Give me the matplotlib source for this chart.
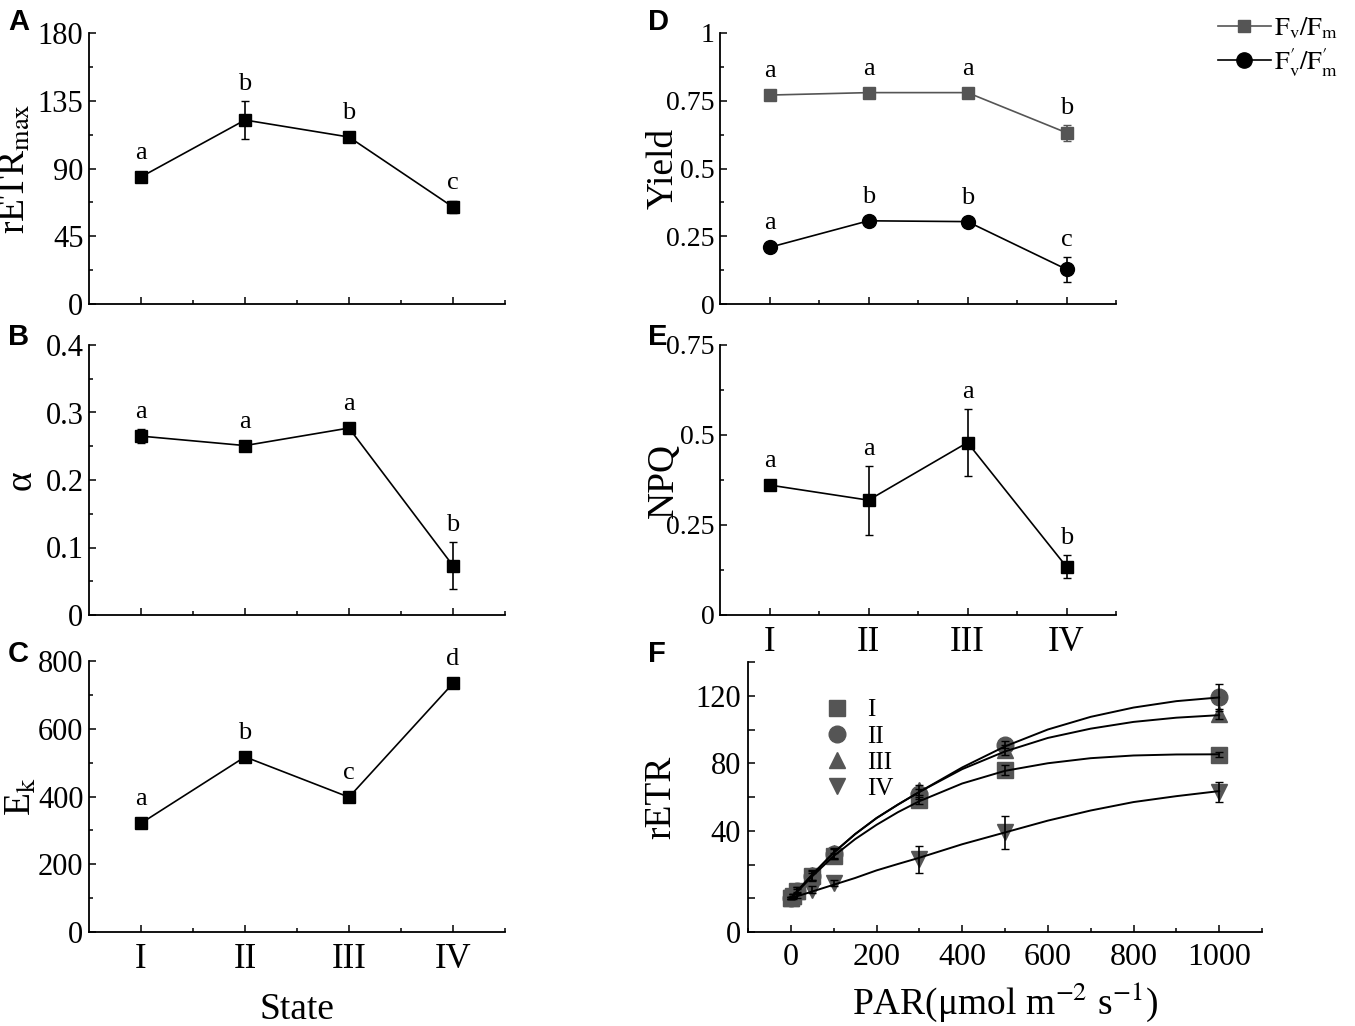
import matplotlib
matplotlib.use('Agg')
import matplotlib.pyplot as plt
from matplotlib.ticker import MultipleLocator, FixedLocator, FuncFormatter
from matplotlib.lines import Line2D

plt.rcParams['font.family'] = ['Liberation Serif', 'DejaVu Serif']
plt.rcParams['mathtext.fontset'] = 'stix'

# ---- data ----
states = ['I', 'II', 'III', 'IV']
pos = [1, 2, 3, 4]

retr_max = [84.4, 122.2, 110.9, 64.4]
retr_max_err = [2.0, 12.6, 2.5, 4.0]
retr_max_sig = ['a', 'b', 'b', 'c']

alpha = [0.265, 0.251, 0.277, 0.073]
alpha_err = [0.010, 0.005, 0.005, 0.035]
alpha_sig = ['a', 'a', 'a', 'b']

ek = [321, 517, 398, 734]
ek_err = [10, 10, 8, 8]
ek_sig = ['a', 'b', 'c', 'd']

fvfm = [0.771, 0.780, 0.780, 0.632]
fvfm_err = [0.005, 0.005, 0.005, 0.030]
fvfm_sig = ['a', 'a', 'a', 'b']

fvfm_p = [0.209, 0.307, 0.304, 0.128]
fvfm_p_err = [0.010, 0.010, 0.010, 0.047]
fvfm_p_sig = ['a', 'b', 'b', 'c']

npq = [0.361, 0.319, 0.479, 0.134]
npq_err = [0.015, 0.096, 0.094, 0.032]
npq_sig = ['a', 'a', 'a', 'b']

# panel F: measured points
par = [0, 5, 15, 50, 100, 300, 500, 1000]
retr_I = [0, 1.5, 4.5, 13, 25, 58, 76, 85]
retr_II = [0, 1.5, 4.5, 13, 26, 62, 91, 119]
retr_III = [0, 1.5, 4.5, 14, 27, 64, 88, 109]
retr_IV = [0, 0.5, 1.5, 5, 9, 23, 39, 63]
err_I = [0.5, 1, 1, 2, 2, 2, 3, 1.5]
err_II = [0.5, 1, 2, 3, 3, 3, 2, 8]
err_III = [0.5, 1, 2, 3, 3, 3, 3, 3]
err_IV = [0.5, 1, 1.5, 2, 2, 8, 10, 6]

# panel F: fitted curves
par_fit = [0, 50, 100, 150, 200, 250, 300, 400, 500, 600, 700, 800, 900, 1000]
fit_I = [0, 13, 25, 35, 43.5, 51, 57.5, 68, 75.5, 80, 83, 84.6, 85.2, 85.3]
fit_II = [0, 14, 27, 38, 47.5, 55.5, 63, 77.5, 90, 100, 107.5, 113, 116.8, 119]
fit_III = [0, 14, 27, 38, 47.5, 55.5, 63, 76.5, 87, 95, 100.5, 104.5, 107, 108.5]
fit_IV = [0, 4, 8, 12, 16.5, 20.3, 24, 32, 39, 46, 52, 57, 60.5, 63.5]

W, H = 1355, 1026
fig = plt.figure(figsize=(W / 100, H / 100), dpi=100)


def box(left, top, right, bottom):
    return [left / W, 1 - bottom / H, (right - left) / W, (bottom - top) / H]


def style(ax, size=22):
    for s in ['top', 'right']:
        ax.spines[s].set_visible(False)
    for s in ['left', 'bottom']:
        ax.spines[s].set_linewidth(1.3)
    ax.tick_params(which='both', direction='in', width=1.1, labelsize=size)
    ax.tick_params(which='major', length=5)
    ax.tick_params(which='minor', length=3)


def state_axes(rect, ymax, ymaj, ylabel, show_x, size=22):
    ax = fig.add_axes(box(*rect))
    style(ax, size)
    ax.set_xlim(0.5, 4.5)
    ax.set_ylim(0, ymax)
    ax.set_xticks(pos)
    ax.xaxis.set_minor_locator(FixedLocator([1.5, 2.5, 3.5, 4.5]))
    ax.yaxis.set_major_locator(MultipleLocator(ymaj))
    ax.yaxis.set_minor_locator(MultipleLocator(ymaj / 2))
    ax.yaxis.set_major_formatter(FuncFormatter(lambda v, p: f'{v:g}'))
    if show_x:
        ax.set_xticklabels(states)
        ax.tick_params(axis='x', pad=8, labelsize=25)
    else:
        ax.set_xticklabels([])
    ax.tick_params(axis='y', pad=4)
    ax.set_ylabel(ylabel, fontsize=27)
    return ax


def series(ax, vals, errs, color='black', marker='s', ms=9, label=None):
    ax.errorbar(pos, vals, yerr=errs, color=color, marker=marker, ms=ms,
                lw=1.2, elinewidth=1.2, capsize=3, label=label)


def letters(ax, vals, errs, sig, color='black'):
    for x, v, e, s in zip(pos, vals, errs, sig):
        p0 = ax.transData.transform((x, v))[1]
        p1 = ax.transData.transform((x, v + e))[1]
        off = max(p1 - p0, 7) + 6
        ax.annotate(s, (x, v), xytext=(0, off), textcoords='offset pixels',
                    ha='center', va='bottom', fontsize=19, color=color)


# A
axA = state_axes((89, 33, 505, 304), 180, 45, r'rETR$_{\mathrm{max}}$', False)
series(axA, retr_max, retr_max_err)
letters(axA, retr_max, retr_max_err, retr_max_sig)
axA.yaxis.set_label_coords(-0.135, 0.5)

# B
axB = state_axes((89, 345, 505, 615), 0.4, 0.1, 'α', False)
series(axB, alpha, alpha_err)
letters(axB, alpha, alpha_err, alpha_sig)
axB.yaxis.set_label_coords(-0.12, 0.5)

# C
axC = state_axes((89, 661, 505, 932), 800, 200, r'E$_{\mathrm{k}}$', True)
series(axC, ek, ek_err)
letters(axC, ek, ek_err, ek_sig)
axC.set_xlabel('State', fontsize=27, labelpad=12)
axC.yaxis.set_label_coords(-0.12, 0.5)

# D
axD = state_axes((720, 33, 1116, 304), 1, 0.25, 'Yield', False, size=20)
series(axD, fvfm, fvfm_err, color='#555555', ms=9)
series(axD, fvfm_p, fvfm_p_err, color='black', marker='o', ms=10)
letters(axD, fvfm, fvfm_err, fvfm_sig)
letters(axD, fvfm_p, fvfm_p_err, fvfm_p_sig)
axD.yaxis.set_label_coords(-0.10, 0.5)
hD = [Line2D([], [], color='#555555', marker='s', ms=9, lw=1.2),
      Line2D([], [], color='black', marker='o', ms=11, lw=1.2)]
fig.legend(hD, [r'$\mathrm{F_v/F_m}$', r"$\mathrm{F_v'/F_m'}$"],
           loc='upper right', bbox_to_anchor=(1352 / W, 1 - 2 / H),
           frameon=False, fontsize=19, handlelength=2.0, handletextpad=0.15,
           labelspacing=0.2, borderpad=0)

# E
axE = state_axes((720, 345, 1116, 615), 0.75, 0.25, 'NPQ', True, size=20)
series(axE, npq, npq_err)
letters(axE, npq, npq_err, npq_sig)
axE.yaxis.set_label_coords(-0.10, 0.5)

# F
axF = fig.add_axes(box(748, 662, 1262, 932))
style(axF)
axF.set_xlim(-100, 1100)
axF.set_ylim(-20, 140)
axF.xaxis.set_major_locator(MultipleLocator(200))
axF.xaxis.set_minor_locator(MultipleLocator(100))
axF.set_yticks([-20, 0, 20, 40, 60, 80, 100, 120, 140])
axF.set_yticklabels(['0', '', '', '40', '', '80', '', '120', ''])
axF.tick_params(axis='x', pad=8, labelsize=23)
axF.tick_params(axis='y', pad=5)

gray = '#555555'
f_sets = [(retr_I, err_I, fit_I, 's', 'I'),
          (retr_II, err_II, fit_II, 'o', 'II'),
          (retr_III, err_III, fit_III, '^', 'III'),
          (retr_IV, err_IV, fit_IV, 'v', 'IV')]
for vals, errs, fit, mk, lab in f_sets:
    axF.plot(par, vals, ls='none', marker=mk, ms=12, color=gray, label=lab, zorder=2)
    axF.errorbar(par, vals, yerr=errs, fmt='none', ecolor='black',
                 elinewidth=1.2, capsize=3, zorder=3)
    axF.plot(par_fit, fit, color='black', lw=1.4, zorder=4)

axF.legend(loc='upper left', bbox_to_anchor=(0.12, 0.91), frameon=False,
           fontsize=18, handlelength=1.2, handletextpad=0.6,
           labelspacing=0.15, borderpad=0)
axF.set_xlabel(r'PAR(μmol m$^{-2}$ s$^{-1}$)', fontsize=27, labelpad=6)
axF.set_ylabel('rETR', fontsize=27)
axF.yaxis.set_label_coords(-0.135, 0.5)

# panel letters
for lab, x, y in [('A', 8, 8), ('B', 8, 323), ('C', 8, 640),
                  ('D', 648, 8), ('E', 648, 323), ('F', 648, 640)]:
    fig.text(x / W, 1 - y / H, lab, fontsize=21, fontweight='bold',
             family='Liberation Sans', ha='left', va='top')

fig.savefig('out.png', dpi=100)
